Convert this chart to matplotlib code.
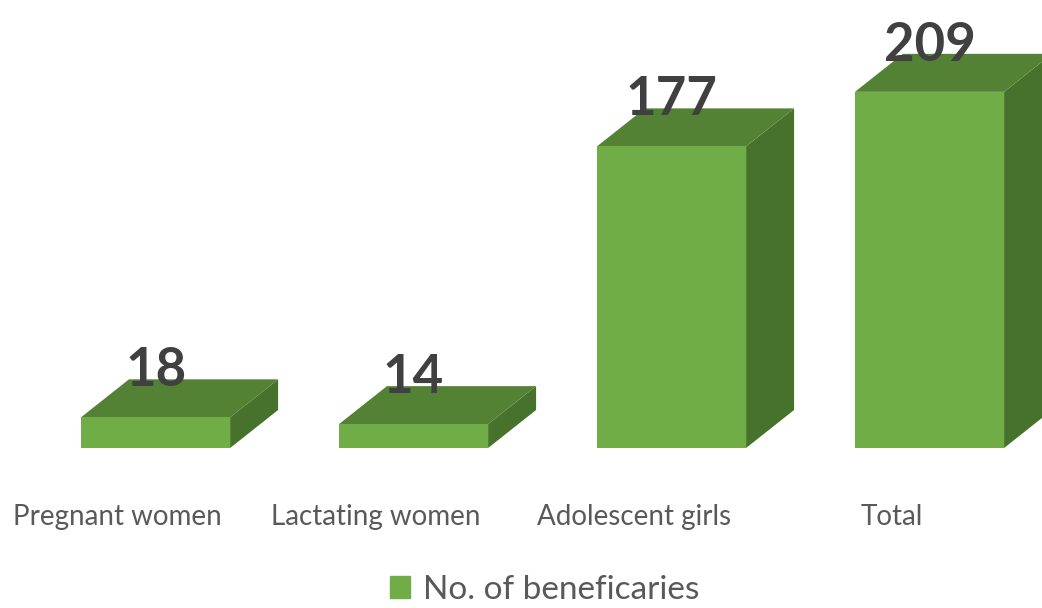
import matplotlib
matplotlib.use('Agg')
import matplotlib.pyplot as plt
from matplotlib.patches import Polygon, Patch

plt.rcParams['font.family'] = ['Lato', 'DejaVu Sans']

categories = ['Pregnant women', 'Lactating women', 'Adolescent girls', 'Total']
values = [18, 14, 177, 209]
series_name = 'No. of beneficaries'

front = '#70AD47'
top = '#548235'
side = '#46722B'

fig = plt.figure(figsize=(10.42, 6.08), dpi=100)
ax = fig.add_axes([0, 0, 1, 1])
ax.set_xlim(-0.603, 3.436)
ax.set_ylim(-93.9, 262.9)
ax.axis('off')

width = 0.578
dx = 0.186   # depth, x units
dy = 22.3    # depth, value units

for i, v in enumerate(values):
    x0, x1 = i - width / 2, i + width / 2
    # side face
    ax.add_patch(Polygon([(x1, 0), (x1 + dx, dy), (x1 + dx, v + dy), (x1, v)],
                         closed=True, facecolor=side, edgecolor='none'))
    # top face
    ax.add_patch(Polygon([(x0, v), (x1, v), (x1 + dx, v + dy), (x0 + dx, v + dy)],
                         closed=True, facecolor=top, edgecolor='none'))
    ax.bar(i, v, width=width, color=front, zorder=3)
    ax.text(i, v + dy - 4, str(v), ha='center', va='baseline',
            fontsize=38, fontweight='bold', color='#404040', zorder=4)
    ax.text(i - 0.147, -40.5, categories[i], ha='center', va='center',
            fontsize=20, color='#595959')

leg = ax.legend(handles=[Patch(color=front, label=series_name)],
                loc='center', bbox_to_anchor=(0.523, 0.03), frameon=False,
                fontsize=24, handlelength=0.6, handleheight=0.6,
                handletextpad=0.4, borderpad=0.2, labelcolor='#595959')

fig.savefig('out.png', dpi=100)
